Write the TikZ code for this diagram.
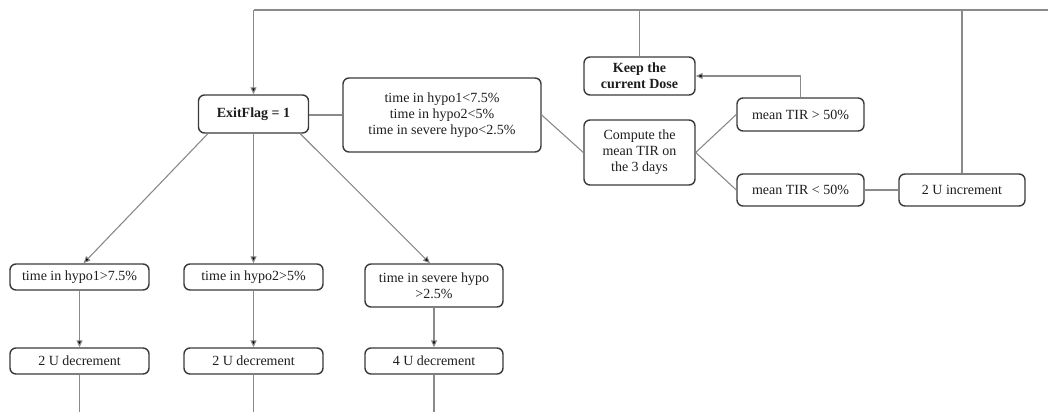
\documentclass[tikz,border=0pt]{standalone}
\usepackage{fontspec}
\setmainfont{Liberation Serif}
\usetikzlibrary{arrows.meta,calc}
\definecolor{boxline}{HTML}{3A3A3A}
\definecolor{wire}{HTML}{8A8A8A}
\definecolor{ink}{HTML}{1E1E1E}
\tikzset{
  box/.style={draw=boxline, line width=1.4pt, rounded corners=6pt, fill=white,
    text=ink, align=center, inner sep=2pt,
    font=\fontsize{14}{16}\selectfont},
  boldbox/.style={box, font=\fontsize{14}{16}\selectfont\bfseries},
  wireline/.style={draw=wire, line width=1.1pt},
  wirearrow/.style={wireline, -{Triangle[length=7pt,width=6pt,fill=black]}},
}
\begin{document}
\begin{tikzpicture}[x=1pt,y=-1pt]
\useasboundingbox (0,0) rectangle (1048,412);

% decision boxes
\node[boldbox, minimum width=110pt, minimum height=38pt] (exit) at (253.5,114) {ExitFlag = 1};
\node[box, minimum width=198pt, minimum height=74pt] (cond) at (442,115)
  {time in hypo1<7.5\%\\time in hypo2<5\%\\time in severe hypo<2.5\%};
\node[boldbox, minimum width=111pt, minimum height=38pt] (keep) at (639.5,76) {Keep the\\current Dose};
\node[box, minimum width=111pt, minimum height=65pt] (comp) at (639.5,152.5) {Compute the\\mean TIR on\\the 3 days};
\node[box, minimum width=127pt, minimum height=33pt] (tirhi) at (800.5,114.5) {mean TIR > 50\%};
\node[box, minimum width=127pt, minimum height=32pt] (tirlo) at (800.5,190) {mean TIR < 50\%};
\node[box, minimum width=126pt, minimum height=32pt] (inc) at (962,190) {2 U increment};

% hypoglycaemia branches
\node[box, minimum width=139pt, minimum height=26pt] (h1) at (79.5,277) {time in hypo1>7.5\%};
\node[box, minimum width=139pt, minimum height=26pt] (h2) at (253.5,277) {time in hypo2>5\%};
\node[box, minimum width=138pt, minimum height=43pt] (sev) at (434,285.5) {time in severe hypo\\>2.5\%};
\node[box, minimum width=139pt, minimum height=26pt] (d1) at (79.5,361) {2 U decrement};
\node[box, minimum width=139pt, minimum height=26pt] (d2) at (253.5,361) {2 U decrement};
\node[box, minimum width=138pt, minimum height=26pt] (d3) at (434,361) {4 U decrement};

% feedback loop along the top
\coordinate (topL) at (253.5,10);
\coordinate (topR) at (1048,10);
\coordinate (endA) at (79.5,412);
\coordinate (endB) at (253.5,412);
\coordinate (endC) at (434,412);

\draw[wireline] (topR) -- (topL);
\draw[wirearrow] (topL) -- (exit.north);
\draw[wireline] (keep.north) -- (keep.north |- topL);
\draw[wireline] (inc.north) -- (inc.north |- topL);

% main chain
\draw[wireline] (exit.east |- cond.west) -- (cond.west);
\draw[wireline] (cond.east) -- (comp.west);
\draw[wireline] (comp.east) -- (tirhi.west);
\draw[wireline] (comp.east) -- (tirlo.west);
\draw[wirearrow] (tirhi.north) |- (keep.east);
\draw[wireline] (tirlo.east) -- (inc.west);

% branches below ExitFlag
\draw[wirearrow] ([xshift=10pt]exit.south west) -- ([xshift=4pt]h1.north);
\draw[wirearrow] (exit.south) -- (h2.north);
\draw[wirearrow] ([xshift=-9pt]exit.south east) -- ([xshift=-4pt]sev.north);
\draw[wirearrow] (h1.south) -- (d1.north);
\draw[wirearrow] (h2.south) -- (d2.north);
\draw[wirearrow] (sev.south) -- (d3.north);
\draw[wireline] (d1.south) -- (endA);
\draw[wireline] (d2.south) -- (endB);
\draw[wireline] (d3.south) -- (endC);
\end{tikzpicture}
\end{document}
